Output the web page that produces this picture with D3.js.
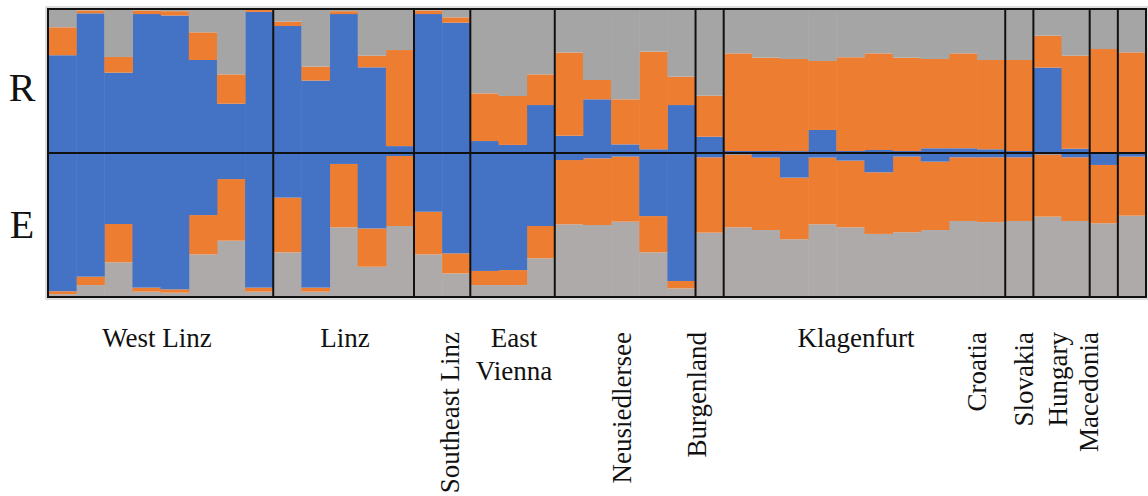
<!DOCTYPE html>
<html>
<head>
<meta charset="utf-8">
<script src="https://cdn.jsdelivr.net/npm/d3@7"></script>
<style>
  html, body { margin: 0; padding: 0; background: #fff; }
  svg { display: block; }
  text { font-family: "Liberation Serif", "Times New Roman", serif; fill: #111; }
</style>
</head>
<body>
<svg id="chart" width="1148" height="496"></svg>
<script>
// Sampling groups, in plotting order, and how many individuals each holds
const groups = ["West Linz", "Linz", "Southeast Linz", "East Vienna", "Neusiedlersee",
  "Burgenland", "Klagenfurt", "Croatia", "Slovakia", "Hungary", "Macedonia"];
const groupSizes = [8, 5, 2, 3, 5, 1, 10, 1, 2, 1, 1];

// Ancestry proportions per individual, row "R" (three clusters)
const rBlue = [0.679, 0.970, 0.558, 0.965, 0.955, 0.646, 0.342, 0.980,
  0.882, 0.503, 0.965, 0.595, 0.048,
  0.965, 0.905,
  0.083, 0.056, 0.333,
  0.120, 0.373, 0.060, 0.026, 0.333,
  0.113,
  0.014, 0.014, 0.013, 0.160, 0.014, 0.021, 0.014, 0.033, 0.033, 0.026,
  0.014,
  0.593, 0.030,
  0.005,
  0.004];
const rOrange = [0.194, 0.020, 0.109, 0.025, 0.030, 0.192, 0.204, 0.015,
  0.030, 0.097, 0.020, 0.081, 0.667,
  0.025, 0.037,
  0.331, 0.340, 0.213,
  0.578, 0.134, 0.313, 0.678, 0.197,
  0.285,
  0.678, 0.648, 0.640, 0.479, 0.651, 0.671, 0.648, 0.620, 0.659, 0.620,
  0.632,
  0.222, 0.646,
  0.717,
  0.695];
const rGray = [0.127, 0.010, 0.333, 0.010, 0.015, 0.162, 0.454, 0.005,
  0.088, 0.400, 0.015, 0.324, 0.285,
  0.010, 0.058,
  0.586, 0.604, 0.454,
  0.302, 0.493, 0.627, 0.296, 0.470,
  0.602,
  0.308, 0.338, 0.347, 0.361, 0.335, 0.308, 0.338, 0.347, 0.308, 0.354,
  0.354,
  0.185, 0.324,
  0.278,
  0.301];

// Ancestry proportions per individual, row "E"
const eBlue = [0.960, 0.859, 0.493, 0.935, 0.947, 0.431, 0.181, 0.935,
  0.310, 0.935, 0.076, 0.524, 0.021,
  0.408, 0.697,
  0.819, 0.813, 0.507,
  0.049, 0.037, 0.025, 0.438, 0.889,
  0.030,
  0.010, 0.032, 0.171, 0.032, 0.053, 0.134, 0.025, 0.060, 0.030, 0.030,
  0.030,
  0.010, 0.030,
  0.083,
  0.025];
const eOrange = [0.020, 0.058, 0.266, 0.028, 0.023, 0.273, 0.428, 0.028,
  0.380, 0.028, 0.440, 0.266, 0.486,
  0.296, 0.139,
  0.098, 0.104, 0.224,
  0.446, 0.463, 0.452, 0.252, 0.051,
  0.523,
  0.506, 0.503, 0.428, 0.463, 0.463, 0.428, 0.525, 0.475, 0.442, 0.450,
  0.442,
  0.432, 0.442,
  0.405,
  0.410];
const eGray = [0.020, 0.083, 0.241, 0.037, 0.030, 0.296, 0.391, 0.037,
  0.310, 0.037, 0.484, 0.210, 0.493,
  0.296, 0.164,
  0.083, 0.083, 0.269,
  0.505, 0.500, 0.523, 0.310, 0.060,
  0.447,
  0.484, 0.465, 0.401, 0.505, 0.484, 0.438, 0.450, 0.465, 0.528, 0.520,
  0.528,
  0.558, 0.528,
  0.512,
  0.565];

const rowLabels = ["R", "E"];

// ---- layout ----
const plotLeft = 48, plotRight = 1146;
const plotTop = 9, plotMid = 153, plotBottom = 297;
const colors = { blue: "#4472C4", orange: "#ED7D31", grayR: "#A5A5A5", grayE: "#AEAAAA" };

const svg = d3.select("#chart");
const n = rBlue.length;
const idx = d3.range(n);

const x = d3.scaleBand().domain(idx).range([plotLeft, plotRight]).padding(0);
const yR = d3.scaleLinear().domain([0, 1]).range([plotMid, plotTop]);
const yE = d3.scaleLinear().domain([0, 1]).range([plotBottom, plotMid]);

const rRows = idx.map(i => ({ i, blue: rBlue[i], orange: rOrange[i], gray: rGray[i] }));
const eRows = idx.map(i => ({ i, blue: eBlue[i], orange: eOrange[i], gray: eGray[i] }));

// Row R stacks blue at the bottom; row E stacks grey at the bottom
const stackR = d3.stack().keys(["blue", "orange", "gray"])(rRows);
const stackE = d3.stack().keys(["gray", "orange", "blue"])(eRows);

function drawStack(series, y, grayColor, cls) {
  const g = svg.append("g").attr("class", cls);
  g.selectAll("g")
    .data(series)
    .join("g")
    .attr("fill", d => d.key === "gray" ? grayColor : colors[d.key])
    .selectAll("rect")
    .data(d => d)
    .join("rect")
    .attr("x", d => x(d.data.i))
    .attr("width", x.bandwidth() + 0.5)
    .attr("y", d => y(d[1]))
    .attr("height", d => Math.max(0, y(d[0]) - y(d[1])));
}
drawStack(stackR, yR, colors.grayR, "row-r");
drawStack(stackE, yE, colors.grayE, "row-e");

// ---- frames and group dividers ----
svg.append("rect")
  .attr("x", plotLeft - 2).attr("y", plotTop - 2)
  .attr("width", plotRight - plotLeft + 4).attr("height", plotBottom - plotTop + 4)
  .attr("fill", "none").attr("stroke", "#bdbdbd").attr("stroke-width", 1);

const bounds = [];
let acc = 0;
groupSizes.forEach(s => { bounds.push([acc, acc + s]); acc += s; });
const edgeX = k => k >= n ? plotRight : x(k);

svg.append("g").selectAll("line")
  .data(bounds.slice(1))
  .join("line")
  .attr("x1", d => edgeX(d[0])).attr("x2", d => edgeX(d[0]))
  .attr("y1", plotTop).attr("y2", plotBottom)
  .attr("stroke", "#111").attr("stroke-width", 2);

svg.append("line")
  .attr("x1", plotLeft).attr("x2", plotRight).attr("y1", plotMid).attr("y2", plotMid)
  .attr("stroke", "#111").attr("stroke-width", 2);

svg.append("rect")
  .attr("x", plotLeft).attr("y", plotTop)
  .attr("width", plotRight - plotLeft).attr("height", plotBottom - plotTop)
  .attr("fill", "none").attr("stroke", "#111").attr("stroke-width", 2);

// ---- row labels ----
svg.append("g").selectAll("text")
  .data(rowLabels)
  .join("text")
  .attr("x", 22)
  .attr("y", (d, k) => k === 0 ? 101 : 238)
  .attr("text-anchor", "middle")
  .attr("font-size", 40)
  .text(d => d);

// ---- group labels ----
// horizontal labels: [group, centre x, lines]; vertical labels: [group, baseline x]
const labelSize = 27;
const flatLabels = [
  ["West Linz", 157, ["West Linz"]],
  ["Linz", 345, ["Linz"]],
  ["East Vienna", 514, ["East", "Vienna"]],
  ["Klagenfurt", 856, ["Klagenfurt"]]
];
const uprightLabels = [
  ["Southeast Linz", 459],
  ["Neusiedlersee", 631],
  ["Burgenland", 706],
  ["Croatia", 986],
  ["Slovakia", 1033],
  ["Hungary", 1067],
  ["Macedonia", 1098]
];

const flat = svg.append("g").selectAll("text")
  .data(flatLabels)
  .join("text")
  .attr("x", d => d[1])
  .attr("y", 347)
  .attr("text-anchor", "middle")
  .attr("font-size", labelSize);
flat.selectAll("tspan")
  .data(d => d[2].map(t => ({ t, cx: d[1] })))
  .join("tspan")
  .attr("x", d => d.cx)
  .attr("dy", (d, k) => k === 0 ? 0 : 33)
  .text(d => d.t);

svg.append("g").selectAll("text")
  .data(uprightLabels)
  .join("text")
  .attr("transform", d => `translate(${d[1]},332) rotate(-90)`)
  .attr("text-anchor", "end")
  .attr("font-size", labelSize)
  .text(d => d[0]);
</script>
</body>
</html>
